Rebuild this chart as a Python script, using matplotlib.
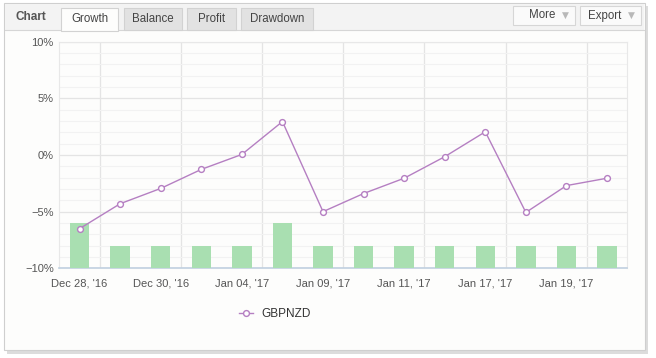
import numpy as np
import matplotlib
matplotlib.use("Agg")
import matplotlib.pyplot as plt
from matplotlib.patches import Rectangle

plt.rcParams["font.family"] = ["Liberation Sans", "DejaVu Sans"]

# data
dates = ["Dec 28, '16", "", "Dec 30, '16", "", "Jan 04, '17", "", "Jan 09, '17", "",
         "Jan 11, '17", "", "Jan 17, '17", "", "Jan 19, '17", ""]
growth = [-6.5, -4.3, -2.95, -1.27, 0.05, 2.95, -5.0, -3.4, -2.05, -0.15, 2.05, -5.07, -2.7, -2.05]
deals = [2, 1, 1, 1, 1, 2, 1, 1, 1, 1, 1, 1, 1, 1]
series_name = "GBPNZD"
tabs = ["Growth", "Balance", "Profit", "Drawdown"]

W, H = 656, 358
fig = plt.figure(figsize=(W / 100, H / 100), dpi=100)
fig.patch.set_facecolor("white")


def px(x, y):
    return x / W, 1 - y / H


def box(x0, y0, x1, y1, fc, ec="none", lw=0.8, z=-5):
    a, b = px(x0, y1)
    r = Rectangle((a, b), (x1 - x0) / W, (y1 - y0) / H, transform=fig.transFigure,
                  facecolor=fc, edgecolor=ec, lw=lw, zorder=z)
    fig.patches.append(r)


# widget frame, shadow and header
box(7, 6, 648, 354, "#dcdcdc")
box(4, 3, 645, 350, "#fdfdfc", "#cfcfcf")
box(5, 4, 644, 30, "#f3f3f3")
fig.lines.append(plt.Line2D([5 / W, 644 / W], [1 - 30 / H] * 2, transform=fig.transFigure,
                            color="#d6d6d6", lw=0.8, zorder=-4))
tx, ty = px(16, 17)
fig.text(tx, ty, "Chart", fontsize=8.5, fontweight="bold", color="#555555", va="center")
tab_x = [(61, 118), (124, 182), (187, 236), (241, 313)]
for name, (x0, x1) in zip(tabs, tab_x):
    active = name == "Growth"
    box(x0, 8, x1, 31 if active else 30, "#fdfdfc" if active else "#e2e2e2", "#d2d2d2", z=-3)
    tx, ty = px((x0 + x1) / 2, 19.5)
    fig.text(tx, ty, name, fontsize=8.3, color="#444444", ha="center", va="center")
for name, (x0, x1) in zip(["More", "Export"], [(513, 575), (580, 641)]):
    box(x0, 6, x1, 25, "#fafafa", "#d6d6d6", z=-3)
    tx, ty = px(x1 - 20, 15.5)
    fig.text(tx, ty, name, fontsize=8.3, color="#444444", ha="right", va="center")
    tx, ty = px(x1 - 10, 15.5)
    fig.text(tx, ty, "\u25bc", fontsize=6.5, color="#b8b8b8", ha="center", va="center",
             family="DejaVu Sans")

# plot area
l, b = px(59.3, 268.3)
r, t = px(627.3, 41.7)
rect = [l, b, r - l, t - b]
ax = fig.add_axes(rect)
x = np.arange(len(growth))

ax.set_xlim(-0.5, len(growth) - 0.5)
ax.set_ylim(-10, 10)
ax.set_facecolor("none")
ax.set_yticks([-10, -5, 0, 5, 10])
ax.set_yticklabels(["\u221210%", "\u22125%", "0%", "5%", "10%"])
ax.set_yticks(np.arange(-10, 11, 1), minor=True)
ax.set_xticks(x[::2])
ax.set_xticklabels([d for d in dates[::2]])
ax.set_xticks(np.arange(0.5, len(growth) - 1, 2), minor=True)
ax.grid(axis="y", which="major", color="#e4e4e4", lw=0.9)
ax.grid(axis="y", which="minor", color="#f2f2f2", lw=0.8)
ax.grid(axis="x", which="minor", color="#e4e4e4", lw=0.9)
ax.tick_params(axis="both", which="both", length=0, labelsize=8, labelcolor="#555555")
ax.tick_params(axis="y", pad=4)
ax.tick_params(axis="x", pad=7)
for s in ["top", "left", "right"]:
    ax.spines[s].set_color("#e8e8e8")
    ax.spines[s].set_linewidth(0.8)
ax.spines["bottom"].set_color("#c0d0e0")
ax.spines["bottom"].set_linewidth(1.2)
ax.set_axisbelow(True)
ax.set_zorder(1)

# deals bars on hidden scale
axb = ax.twinx()
axb.set_ylim(0, 10)
axb.bar(x, deals, width=0.48, color="#a9dfb1", zorder=1)
axb.axis("off")
axb.set_zorder(2)

# growth line on top
axl = ax.twinx()
axl.set_ylim(-10, 10)
axl.plot(x, growth, color="#b57fc2", lw=1.0, marker="o", markersize=4.2,
         markerfacecolor="white", markeredgecolor="#b57fc2", markeredgewidth=1.0,
         label=series_name)
axl.axis("off")
axl.set_zorder(3)

leg = fig.legend(loc="center", bbox_to_anchor=(px(275, 314)), frameon=False,
                 fontsize=8.5, handlelength=1.2, handletextpad=0.7)
for txt in leg.get_texts():
    txt.set_color("#333333")

fig.savefig("out.png", dpi=100)
